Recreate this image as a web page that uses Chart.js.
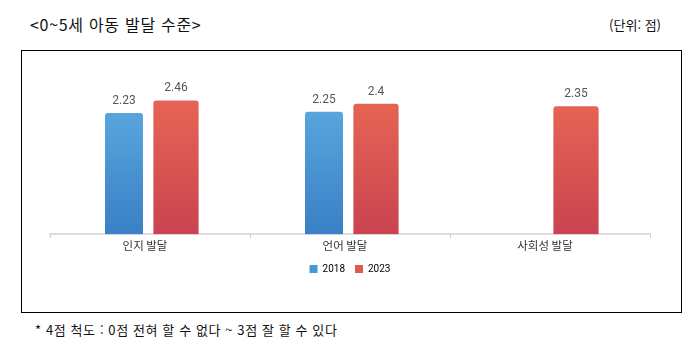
<!DOCTYPE html>
<html lang="ko">
<head>
  <meta charset="UTF-8">
  <title>0~5세 아동 발달 수준</title>
  <script src="https://cdn.jsdelivr.net/npm/chart.js"></script>
  <style>
    body { margin: 0; background: #fff; font-family: "Noto Sans CJK KR", sans-serif; }
    #title { position: absolute; left: 30px; top: 12px; font-size: 16px; letter-spacing: 0.7px; color: #111; }
    #unit { position: absolute; right: 31px; top: 15px; font-size: 13px; color: #111; }
    #frame { position: absolute; left: 21px; top: 50px; width: 659px; height: 261px; border: 1px solid #000; }
    #wrap { position: absolute; left: 0; top: 0; width: 659px; height: 233px; }
    #note { position: absolute; left: 35px; top: 320px; font-size: 13px; letter-spacing: 0.6px; color: #111; }
  </style>
</head>
<body>
  <div id="title">&lt;0~5세 아동 발달 수준&gt;</div>
  <div id="unit">(단위: 점)</div>
  <div id="frame">
    <div id="wrap"><canvas id="devChart"></canvas></div>
  </div>
  <div id="note">* 4점 척도 : 0점 전혀 할 수 없다 ~ 3점 잘 할 수 있다</div>
  <script>
    // 영역별 점수
    const categories = ['인지 발달', '언어 발달', '사회성 발달'];
    const seriesNames = ['2018', '2023'];
    const values2018 = [2.23, 2.25, null];
    const values2023 = [2.46, 2.4, 2.35];
    const valueLabels2018 = ['2.23', '2.25', ''];
    const valueLabels2023 = ['2.46', '2.4', '2.35'];

    // 세로 그라데이션
    function grad(ctx, top, bottom) {
      const area = ctx.chart.chartArea;
      if (!area) return top;
      const g = ctx.chart.ctx.createLinearGradient(0, area.top, 0, area.bottom);
      g.addColorStop(0, top);
      g.addColorStop(1, bottom);
      return g;
    }

    // 막대 위 값 표시
    const valueLabels = {
      id: 'valueLabels',
      afterDatasetsDraw(chart) {
        const c = chart.ctx;
        c.save();
        c.font = '12px Roboto, "Noto Sans CJK KR"';
        c.fillStyle = '#555';
        c.textAlign = 'center';
        c.textBaseline = 'bottom';
        const texts = [valueLabels2018, valueLabels2023];
        chart.data.datasets.forEach((ds, i) => {
          chart.getDatasetMeta(i).data.forEach((bar, j) => {
            if (ds.data[j] == null) return;
            c.fillText(texts[i][j], bar.x, bar.y - 6);
          });
        });
        c.restore();
      }
    };

    new Chart(document.getElementById('devChart'), {
      type: 'bar',
      data: {
        labels: categories,
        datasets: [
          {
            label: seriesNames[0],
            data: values2018,
            backgroundColor: ctx => grad(ctx, '#63b1e4', '#3a80c6'),
            barPercentage: 0.73,
            borderRadius: { topLeft: 3, topRight: 3 },
            borderSkipped: 'bottom'
          },
          {
            label: seriesNames[1],
            data: values2023,
            backgroundColor: ctx => grad(ctx, '#ec6c56', '#c9444f'),
            barPercentage: 0.87,
            borderRadius: { topLeft: 3, topRight: 3 },
            borderSkipped: 'bottom'
          }
        ]
      },
      options: {
        responsive: true,
        maintainAspectRatio: false,
        animation: false,
        datasets: { bar: { categoryPercentage: 0.52 } },
        layout: { padding: { top: 20, left: 28, right: 31, bottom: 0 } },
        scales: {
          x: {
            grid: { display: true, drawOnChartArea: false, offset: true, color: '#ccc', tickLength: 4 },
            border: { color: '#ddd', width: 2 },
            ticks: { color: '#333', font: { size: 11.5, family: '"Noto Sans CJK KR"' }, padding: 1, labelOffset: -5 }
          },
          y: { display: false, min: 0, max: 3 }
        },
        plugins: {
          legend: {
            position: 'bottom',
            labels: {
              boxWidth: 8, boxHeight: 8, color: '#555',
              font: { size: 10, family: 'Roboto' },
              generateLabels: chart => seriesNames.map((n, i) => ({
                text: n,
                fillStyle: ['#4a97d6', '#e0594f'][i],
                strokeStyle: ['#4a97d6', '#e0594f'][i],
                lineWidth: 0,
                datasetIndex: i
              }))
            }
          },
          tooltip: { enabled: false }
        }
      },
      plugins: [valueLabels]
    });
  </script>
</body>
</html>
